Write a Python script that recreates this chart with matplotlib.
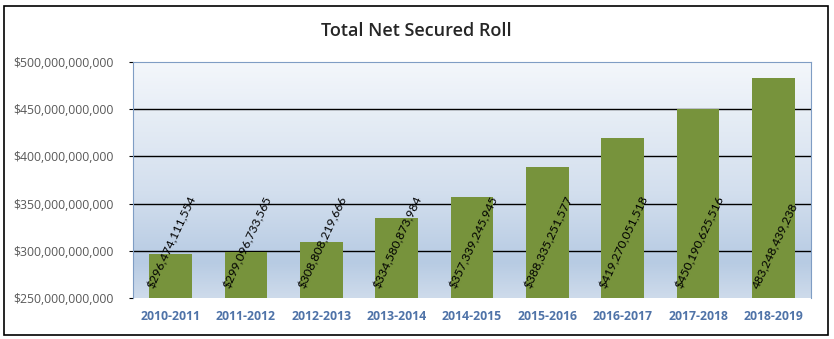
import matplotlib
matplotlib.use("Agg")
import matplotlib.pyplot as plt
import numpy as np
from matplotlib.ticker import FuncFormatter
from matplotlib.patches import Rectangle
from matplotlib.colors import LinearSegmentedColormap

years = ["2010-2011", "2011-2012", "2012-2013", "2013-2014", "2014-2015",
         "2015-2016", "2016-2017", "2017-2018", "2018-2019"]
values = [296474111554, 299096733565, 308808219666, 334580873984, 357339245945,
          388335251577, 419270051518, 450190625516, 483248439238]
labels = ["$296,474,111,554", "$299,096,733,565", "$308,808,219,666", "$334,580,873,984",
          "$357,339,245,945", "$388,335,251,577", "$419,270,051,518", "$450,190,625,516",
          "483,248,439,238"]
title = "Total Net Secured Roll"

fig = plt.figure(figsize=(8.34, 3.39), dpi=100)
W, H = 834, 339
ax = fig.add_axes([133 / W, 1 - 298 / H, (811 - 133) / W, (298 - 62) / H])

ymin, ymax = 250e9, 500e9
# gradient background (row 0 at top)
cmap = LinearSegmentedColormap.from_list("bg", [(0.0, "#F4F7FB"), (0.55, "#D3DFEE"),
                                                (0.85, "#B7CBE3"), (1.0, "#CEDBEB")])
grad = np.linspace(0, 1, 256).reshape(-1, 1)
ax.imshow(grad, aspect="auto", cmap=cmap, extent=(-0.5, len(years) - 0.5, ymin, ymax),
          zorder=0, origin="upper")

x = np.arange(len(years))
ax.bar(x, [v - ymin for v in values], bottom=ymin, width=0.57, color="#77933C", zorder=3)

for i, (xi, lab) in enumerate(zip(x, labels)):
    ax.text(xi + 0.02, 258.5e9, lab, rotation=65, ha="center", va="bottom",
            fontsize=8.8, family="Lato", color="black", zorder=4)

ax.set_xlim(-0.5, len(years) - 0.5)
ax.set_ylim(ymin, ymax)
ax.set_yticks(np.arange(250e9, 500.1e9, 50e9))
ax.yaxis.set_major_formatter(FuncFormatter(lambda v, p: "${:,.0f}".format(v)))
for yv in np.arange(300e9, 500e9, 50e9):
    ax.axhline(yv, color="black", lw=1, zorder=2)
ax.set_xticks(x)
ax.set_xticklabels(years, fontweight="bold", color="#4F73A8", fontsize=8.8, family="Open Sans")
for t in ax.get_yticklabels():
    t.set_family("Open Sans")
    t.set_fontsize(8.8)
    t.set_color("#595959")
ax.tick_params(axis="x", length=0, pad=9)
ax.tick_params(axis="y", length=3, color="black", pad=11)
for s in ax.spines.values():
    s.set_color("#7F9DC4")
    s.set_linewidth(0.8)
ax.spines["bottom"].set_visible(False)

fig.text(416 / W, 1 - 31 / H, title, ha="center", va="center", fontsize=13,
         family="Open Sans", fontweight="semibold", color="#262626")

fig.patches.append(Rectangle((4 / W, 1 - 335 / H), (828 - 4) / W, (335 - 6) / H,
                             transform=fig.transFigure, fill=False, ec="black", lw=1.2))

fig.savefig("out.png", dpi=100)
